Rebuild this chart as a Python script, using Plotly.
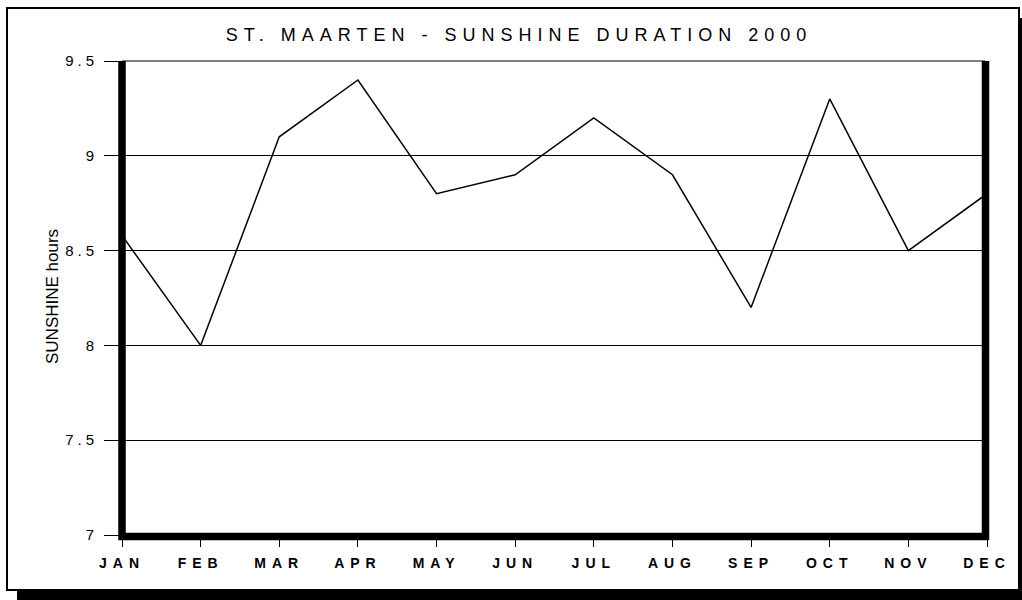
import plotly.graph_objects as go

# ---- data ----
months = ["JAN", "FEB", "MAR", "APR", "MAY", "JUN", "JUL", "AUG", "SEP", "OCT", "NOV", "DEC"]
sunshine_hours = [8.58, 8.0, 9.1, 9.4, 8.8, 8.9, 9.2, 8.9, 8.2, 9.3, 8.5, 8.8]
y_tick_values = [7, 7.5, 8, 8.5, 9, 9.5]
y_tick_labels = ["7", "7.5", "8", "8.5", "9", "9.5"]
title_text = "ST. MAARTEN - SUNSHINE DURATION 2000"
y_title_text = "SUNSHINE hours"

# ---- layout geometry (pixels) ----
W, H = 1022, 600
PL, PR, PT, PB = 122, 987, 61, 535   # plot area edges


def px(xp):
    return (xp - PL) / (PR - PL)


def py(yp):
    return (PB - yp) / (PB - PT)


FONT = "Liberation Sans, Arial, sans-serif"

fig = go.Figure()
fig.add_trace(go.Scatter(
    x=months, y=sunshine_hours, mode="lines",
    line=dict(color="black", width=1.5),
    hoverinfo="x+y", showlegend=False,
))

shapes = [
    # outer frame
    dict(type="rect", xref="paper", yref="paper",
         x0=px(7), x1=px(1019), y0=py(8), y1=py(590),
         line=dict(color="black", width=2), fillcolor="rgba(0,0,0,0)", layer="above"),
    # bottom shadow
    dict(type="rect", xref="paper", yref="paper",
         x0=px(17), x1=px(1040), y0=py(591), y1=py(610),
         line=dict(width=0), fillcolor="black", layer="above"),
    # right shadow
    dict(type="rect", xref="paper", yref="paper",
         x0=px(1020), x1=px(1040), y0=py(18), y1=py(610),
         line=dict(width=0), fillcolor="black", layer="above"),
    # top thin line of plot area
    dict(type="line", xref="paper", yref="paper",
         x0=0, x1=px(985), y0=1, y1=1,
         line=dict(color="black", width=1), layer="above"),
    # thick frame: left, bottom, right
    dict(type="path", xref="paper", yref="paper",
         path=f"M {px(122)},{py(61)} L {px(122)},{py(536.5)} L {px(985.5)},{py(536.5)} L {px(985.5)},{py(61)}",
         line=dict(color="black", width=7.5), layer="above"),
]

fig.update_layout(
    width=W, height=H,
    margin=dict(l=PL, r=W - PR, t=PT, b=H - PB, pad=0),
    paper_bgcolor="white", plot_bgcolor="white",
    font=dict(family=FONT, color="black"),
    title=dict(text=title_text, x=519 / W, y=1 - 35 / H, xanchor="center", yanchor="middle",
               xref="container", yref="container",
               font=dict(family=FONT, size=18, color="black")),
    xaxis=dict(
        type="category", range=[0, len(months) - 1],
        showgrid=False, zeroline=False, showline=False,
        ticks="outside", ticklen=11, tickwidth=1, tickcolor="black",
        tickfont=dict(family=FONT, size=14, color="black", weight="bold"),
        ticklabelstandoff=4, fixedrange=True,
    ),
    yaxis=dict(
        range=[7, 9.5], tickvals=y_tick_values, ticktext=y_tick_labels,
        showgrid=True, gridcolor="black", gridwidth=1,
        zeroline=False, showline=False,
        ticks="outside", ticklen=17, tickwidth=1, tickcolor="black",
        tickfont=dict(family=FONT, size=15, color="black"),
        ticklabelstandoff=3, fixedrange=True,
    ),
    shapes=shapes,
    annotations=[dict(
        text=y_title_text, textangle=-90, xref="paper", yref="paper",
        x=px(52), y=py(297), xanchor="center", yanchor="middle", showarrow=False,
        font=dict(family=FONT, size=17, color="black"),
    )],
)

post = """
document.body.style.margin = '0';
document.body.style.padding = '0';
var gd = document.getElementById('{plot_id}');
function ls(){
  gd.querySelectorAll('.xtick text').forEach(function(t){ t.style.letterSpacing = '6px'; });
  gd.querySelectorAll('.ytick text').forEach(function(t){ t.style.letterSpacing = '4px'; });
  gd.querySelectorAll('.gtitle').forEach(function(t){ t.style.letterSpacing = '6px'; });
}
ls();
gd.on('plotly_afterplot', ls);
"""

fig.write_html("out.html", post_script=post, config={"displayModeBar": False})
